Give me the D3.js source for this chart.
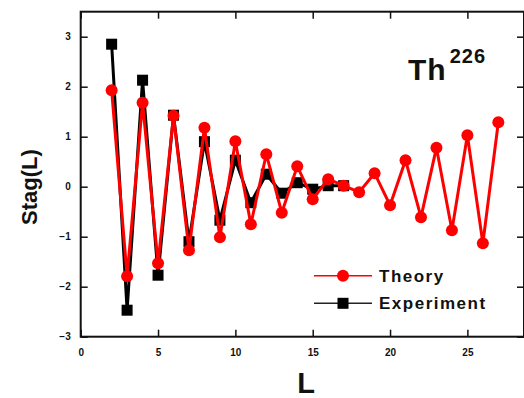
<!DOCTYPE html>
<html>
<head>
<meta charset="utf-8">
<script src="https://cdn.jsdelivr.net/npm/d3@7"></script>
<style>
  html, body { margin: 0; padding: 0; background: #fff; }
  svg { display: block; }
  text { font-family: "Liberation Sans", Arial, sans-serif; font-weight: bold; }
</style>
</head>
<body>
<svg id="chart" width="524" height="398"></svg>
<script>
// ---- data ----
const expL = [2, 3, 4, 5, 6, 7, 8, 9, 10, 11, 12, 13, 14, 15, 16, 17];
const expStag = [2.85, -2.47, 2.13, -1.77, 1.43, -1.10, 0.90, -0.67, 0.53, -0.32, 0.25, -0.13, 0.08, -0.05, 0.02, 0.02];
const thL = [2, 3, 4, 5, 6, 7, 8, 9, 10, 11, 12, 13, 14, 15, 16, 17, 18, 19, 20, 21, 22, 23, 24, 25, 26, 27];
const thStag = [1.93, -1.79, 1.68, -1.53, 1.42, -1.27, 1.18, -1.01, 0.91, -0.75, 0.65, -0.52, 0.41, -0.25, 0.15, 0.02, -0.11, 0.27, -0.37, 0.53, -0.61, 0.78, -0.87, 1.03, -1.13, 1.29];
const xTicks = [0, 5, 10, 15, 20, 25];
const yTicks = [-3, -2, -1, 0, 1, 2, 3];
const seriesNames = ["Theory", "Experiment"];

(function () {
const svg = d3.select("#chart");
const pL = 80.7, pR = 524, pT = 11.7, pB = 336.7;
const x = d3.scaleLinear().domain([0, 28.66]).range([pL, pR]);
const y = d3.scaleLinear().domain([-3, 3.5]).range([pB, pT]);
const fmt = d3.format("d");

const axisColor = "#111";
// frame
svg.append("rect").attr("x", pL).attr("y", pT).attr("width", pR - pL).attr("height", pB - pT)
  .attr("fill", "none").attr("stroke", axisColor).attr("stroke-width", 2);

// axes
const gx = svg.append("g").attr("transform", `translate(0,${pB})`)
  .call(d3.axisBottom(x).tickValues(xTicks).tickFormat(fmt).tickSizeInner(-7).tickSizeOuter(0).tickPadding(12));
const gxTop = svg.append("g").attr("transform", `translate(0,${pT})`)
  .call(d3.axisTop(x).tickValues(xTicks).tickSizeInner(-7).tickSizeOuter(0).tickFormat(""));
const gy = svg.append("g").attr("transform", `translate(${pL},0)`)
  .call(d3.axisLeft(y).tickValues(yTicks).tickFormat(fmt).tickSizeInner(-7).tickSizeOuter(0).tickPadding(10));
const gyR = svg.append("g").attr("transform", `translate(${pR},0)`)
  .call(d3.axisRight(y).tickValues(yTicks).tickSizeInner(-7).tickSizeOuter(0).tickFormat(""));
[gx, gxTop, gy, gyR].forEach(g => {
  g.select(".domain").remove();
  g.selectAll(".tick line").attr("stroke", axisColor).attr("stroke-width", 1.5);
  g.selectAll(".tick text").attr("fill", "#111").attr("font-size", 10).attr("font-weight", "bold")
    .attr("font-family", "'Liberation Sans', Arial, sans-serif");
});

// lines
const line = d3.line().x(d => x(d[0])).y(d => y(d[1]));
const expData = expL.map((l, i) => [l, expStag[i]]);
const thData = thL.map((l, i) => [l, thStag[i]]);

svg.append("path").datum(expData).attr("d", line).attr("fill", "none")
  .attr("stroke", "#000").attr("stroke-width", 3);
svg.selectAll(".sq").data(expData).enter().append("rect")
  .attr("x", d => x(d[0]) - 5.5).attr("y", d => y(d[1]) - 5.5)
  .attr("width", 11).attr("height", 11).attr("fill", "#000");

svg.append("path").datum(thData).attr("d", line).attr("fill", "none")
  .attr("stroke", "#ff0000").attr("stroke-width", 3);
svg.selectAll(".ci").data(thData).enter().append("circle")
  .attr("cx", d => x(d[0])).attr("cy", d => y(d[1])).attr("r", 6).attr("fill", "#ff0000");

// legend
const leg = svg.append("g");
const legY = [275.7, 303.3];
leg.append("line").attr("x1", 314).attr("x2", 372).attr("y1", legY[0]).attr("y2", legY[0])
  .attr("stroke", "#ff0000").attr("stroke-width", 1.5);
leg.append("circle").attr("cx", 343).attr("cy", legY[0]).attr("r", 6).attr("fill", "#ff0000");
leg.append("line").attr("x1", 314).attr("x2", 372).attr("y1", legY[1]).attr("y2", legY[1])
  .attr("stroke", "#222").attr("stroke-width", 1.5);
leg.append("rect").attr("x", 343 - 5.5).attr("y", legY[1] - 5.5).attr("width", 11).attr("height", 11).attr("fill", "#000");
seriesNames.forEach((n, i) => {
  leg.append("text").attr("x", 379).attr("y", legY[i] + 6).attr("font-size", 17)
    .attr("letter-spacing", 1.5).attr("fill", "#111").text(n);
});

// title
const t = svg.append("text").attr("x", 408).attr("y", 80).attr("fill", "#111");
t.append("tspan").attr("font-size", 30).attr("letter-spacing", 1).text("Th");
t.append("tspan").attr("font-size", 20).attr("letter-spacing", 1).attr("dy", -17).attr("dx", 3).text("226");

// axis titles
svg.append("text").attr("x", 306).attr("y", 393).attr("text-anchor", "middle")
  .attr("font-size", 29).attr("fill", "#111").text("L");
svg.append("text").attr("transform", "translate(37,187) rotate(-90)").attr("text-anchor", "middle")
  .attr("font-size", 22).attr("fill", "#111").text("Stag(L)");
})();
</script>
</body>
</html>
